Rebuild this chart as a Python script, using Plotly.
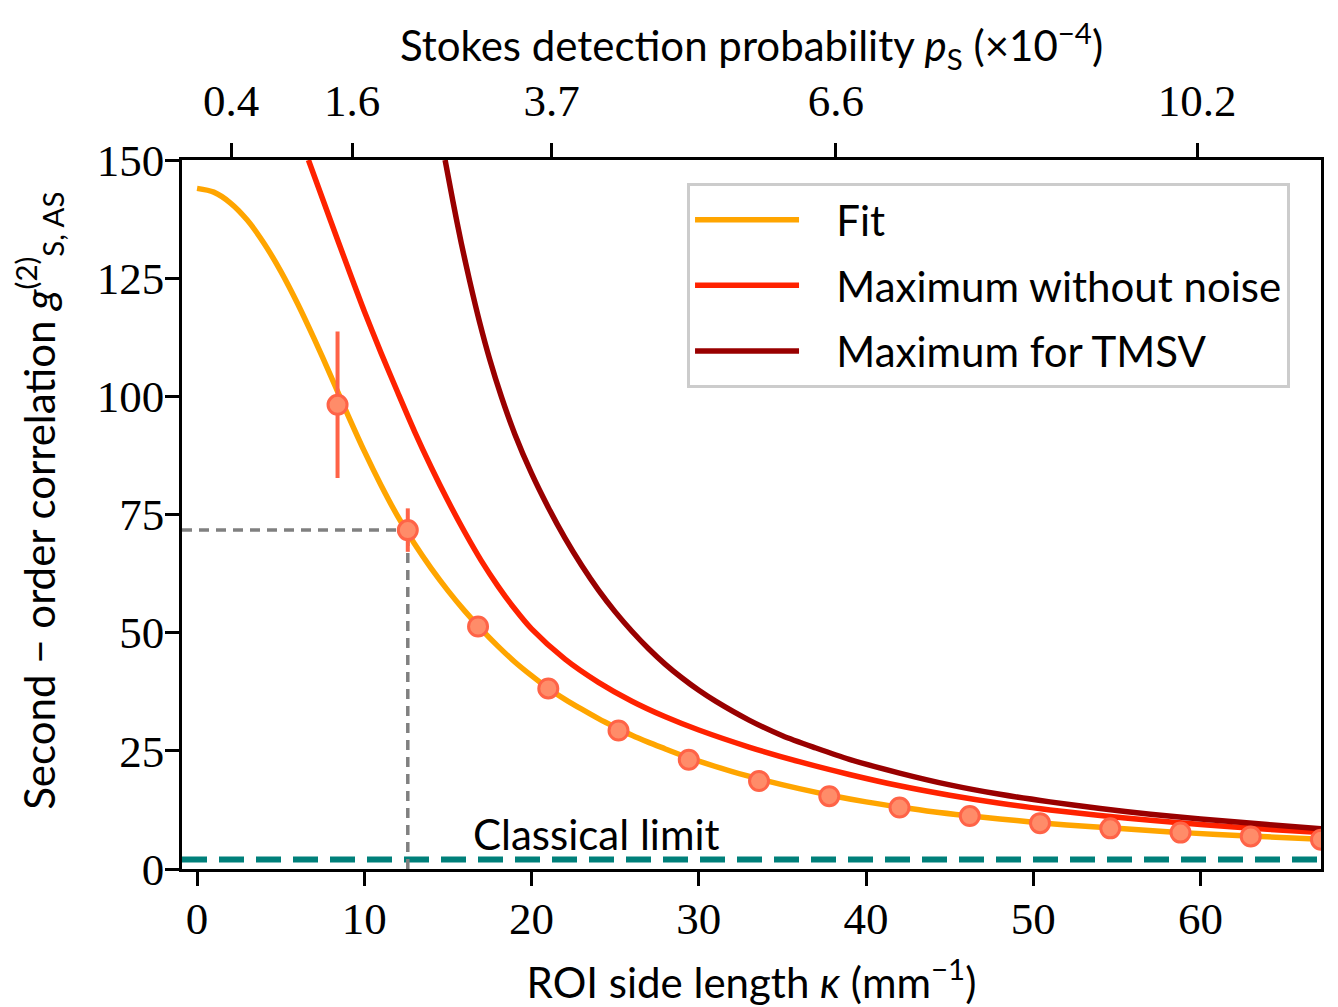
import plotly.graph_objects as go

# ---------------- data ----------------
fit_kappa = [0, 1, 2, 3, 4, 5, 6, 7, 8, 9, 10, 11, 12, 13, 14, 15, 16, 17, 18, 19, 20,
             21, 22, 23, 24, 25, 26, 27, 28, 29, 30, 32, 34, 36, 38, 40, 42, 44, 46, 48,
             50, 52, 55, 58, 61, 64, 67.2]
fit_g2 = [144.0, 143.2, 140.9, 137.3, 132.4, 126.5, 119.7, 112.2, 104.3, 96.2, 88.4, 81.2,
          74.6, 68.8, 63.6, 58.9, 54.6, 50.7, 47.1, 43.8, 40.9,
          38.2, 35.9, 33.8, 31.8, 30.0, 28.3, 26.8, 25.4, 24.0, 22.8, 20.6, 18.7, 17.0, 15.5,
          14.2, 13.1, 12.1, 11.3, 10.6, 9.9, 9.3, 8.6, 7.9, 7.3, 6.8, 6.3]

nonoise_kappa = [6.66, 8, 9, 10, 11, 12, 13, 14, 15, 16, 17, 18, 19, 20, 22, 24, 26, 28, 30,
                 33, 36, 39, 42, 45, 48, 51, 54, 57, 60, 64, 67.2]
nonoise_g2 = [150.0, 137.0, 127.4, 118.0, 109.2, 100.8, 92.6, 85.0, 77.9, 71.3, 65.2, 59.8,
              55.0, 50.8, 44.4, 39.5, 35.5, 32.2, 29.4, 25.8, 22.7, 20.0, 17.6, 15.6, 13.9,
              12.5, 11.3, 10.3, 9.4, 8.4, 7.7]

tmsv_kappa = [14.83, 15.3, 15.8, 16.3, 16.9, 17.5, 18.2, 19, 20, 21, 22, 23, 24, 25, 26, 27,
              28, 29, 30, 31, 33, 35, 37, 39, 42, 45, 48, 51, 54, 57, 60, 64, 67.2]
tmsv_g2 = [150.0, 141.2, 132.4, 124.4, 115.6, 107.8, 99.9, 92.0, 83.7, 76.5, 70.0, 64.2,
           59.0, 54.4, 50.3, 46.6, 43.3, 40.4, 37.8, 35.5, 31.5, 28.2, 25.6, 23.2, 20.3,
           17.8, 15.8, 14.2, 12.8, 11.6, 10.6, 9.4, 8.5]

meas_kappa = [8.4, 12.6, 16.8, 21.0, 25.2, 29.4, 33.6, 37.8, 42.0, 46.2, 50.4, 54.6, 58.8, 63.0, 67.2]
meas_g2 = [98.2, 71.7, 51.3, 38.2, 29.3, 23.1, 18.6, 15.4, 13.0, 11.2, 9.7, 8.6, 7.7, 6.9, 6.2]
meas_err = [15.5, 4.6, 0, 0, 0, 0, 0, 0, 0, 0, 0, 0, 0, 0, 0]

classical_limit = 2.0

x_ticks = [0, 10, 20, 30, 40, 50, 60]
y_ticks = [0, 25, 50, 75, 100, 125, 150]
top_tick_kappa = [2.03, 9.27, 21.2, 38.2, 59.8]
top_tick_labels = ["0.4", "1.6", "3.7", "6.6", "10.2"]

X_RANGE = [-0.9, 67.2]
Y_RANGE = [0, 150]

SERIF = "Liberation Serif, Times New Roman, serif"
SANS = "Lato, Noto Sans, sans-serif"
NB = "\u00a0" * 3

fig = go.Figure()

# classical limit
fig.add_trace(go.Scatter(x=X_RANGE, y=[classical_limit, classical_limit], mode="lines",
                         line=dict(color="#00807a", width=6, dash="25px,12px"),
                         showlegend=False, hoverinfo="skip"))

fig.add_trace(go.Scatter(x=fit_kappa, y=fit_g2, mode="lines", name=NB + "Fit",
                         line=dict(color="#FFA500", width=5.5, shape="spline", smoothing=0.8),
                         legendgroup="a"))
fig.add_trace(go.Scatter(x=nonoise_kappa, y=nonoise_g2, mode="lines", name=NB + "Maximum without noise",
                         line=dict(color="#FF2200", width=5.5, shape="spline", smoothing=0.8),
                         legendgroup="b"))
fig.add_trace(go.Scatter(x=tmsv_kappa, y=tmsv_g2, mode="lines", name=NB + "Maximum for TMSV",
                         line=dict(color="#990000", width=5.5, shape="spline", smoothing=0.8),
                         legendgroup="c"))

# guide lines to the second point
fig.add_trace(go.Scatter(x=[X_RANGE[0], meas_kappa[1]], y=[meas_g2[1], meas_g2[1]], mode="lines",
                         line=dict(color="#808080", width=3.5, dash="10px,7px"),
                         showlegend=False, hoverinfo="skip"))
fig.add_trace(go.Scatter(x=[meas_kappa[1], meas_kappa[1]], y=[0, meas_g2[1]], mode="lines",
                         line=dict(color="#808080", width=3.5, dash="10px,7px"),
                         showlegend=False, hoverinfo="skip"))

# measured points
fig.add_trace(go.Scatter(x=meas_kappa, y=meas_g2, mode="markers",
                         marker=dict(size=19, color="#FF8C69", line=dict(color="#FF6347", width=3)),
                         error_y=dict(type="data", array=meas_err, color="#FF6347", thickness=4, width=0),
                         showlegend=False))

# carrier trace for the top axis
fig.add_trace(go.Scatter(x=X_RANGE, y=Y_RANGE, xaxis="x2", mode="markers",
                         marker=dict(opacity=0), showlegend=False, hoverinfo="skip"))

fig.add_annotation(x=23.9, y=classical_limit, yshift=-1, text="Classical limit", showarrow=False,
                   yanchor="bottom", font=dict(family=SANS, size=42, color="black"))

# y-axis title
fig.add_annotation(xref="paper", yref="paper", x=-0.126, y=0.52, xanchor="center", yanchor="middle",
                   textangle=-90, showarrow=False,
                   text="Second − order correlation <i>g</i><sup>(2)</sup><sub>S, AS</sub>",
                   font=dict(family=SANS, size=42, color="black"))

axis_common = dict(showgrid=False, zeroline=False, showline=True, linecolor="black", linewidth=2.5,
                   ticks="outside", ticklen=14, tickwidth=2.5, tickcolor="black", automargin=False,
                   tickfont=dict(family=SERIF, size=45, color="black"))

fig.update_layout(
    width=1330, height=999,
    margin=dict(l=174, r=17, t=152, b=138),
    plot_bgcolor="white", paper_bgcolor="white",
    xaxis=dict(range=X_RANGE, tickvals=x_ticks, ticklabelstandoff=-6, **axis_common,
               title=dict(text="ROI side length <i>κ</i> (mm<sup>−1</sup>)",
                          font=dict(family=SANS, size=42, color="black"), standoff=26)),
    xaxis2=dict(range=X_RANGE, overlaying="x", side="top", anchor="y", tickvals=top_tick_kappa,
                ticktext=top_tick_labels, ticklabelstandoff=9, **axis_common,
                title=dict(text="Stokes detection probability <i>p</i><sub>S</sub> (×10<sup>−4</sup>)",
                           font=dict(family=SANS, size=42, color="black"), standoff=0)),
    yaxis=dict(range=Y_RANGE, tickvals=y_ticks, mirror=True, ticklabelstandoff=-8, **axis_common),
    legend=dict(x=0.4434, y=0.9676, xanchor="left", yanchor="top",
                bgcolor="white", bordercolor="#cccccc", borderwidth=3,
                font=dict(family=SANS, size=42, color="black"),
                itemwidth=104, tracegroupgap=8),
    showlegend=True,
)

fig.write_html("out.html")
